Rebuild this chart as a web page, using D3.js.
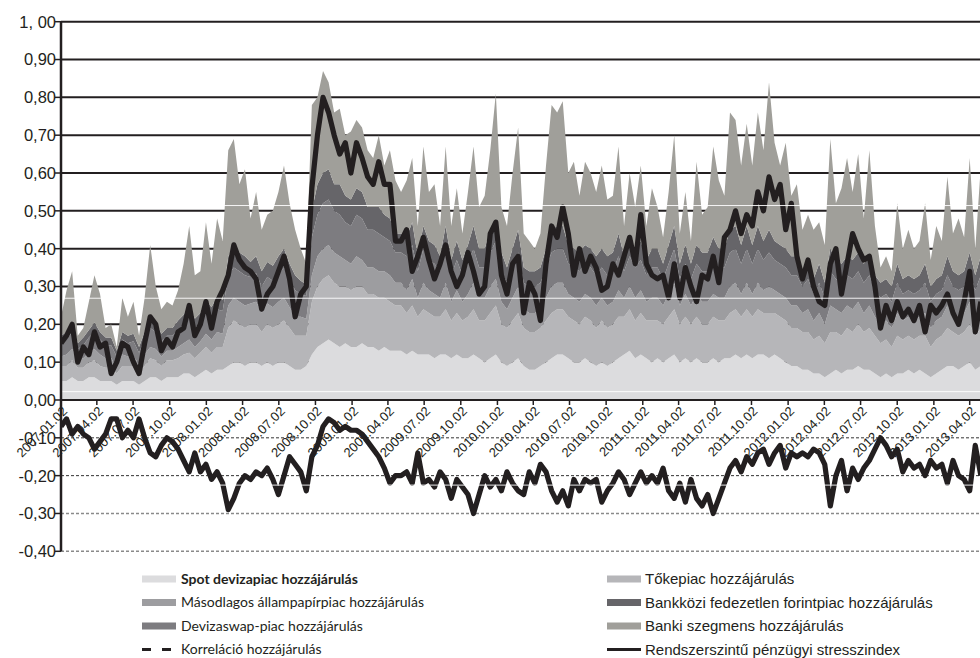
<!DOCTYPE html>
<html>
<head>
<meta charset="utf-8">
<script src="https://cdn.jsdelivr.net/npm/d3@7"></script>
<style>
  body { margin: 0; background: #fff; }
  svg { display: block; }
</style>
</head>
<body>
<svg id="chart" width="980" height="658"></svg>
<script>
// Observations: one every 14 days from 2007.01.02
const startDate = new Date(2007, 0, 2);
const stepDays = 14;

// Stacked contributions (bottom to top)
const spot = [
  0.05,0.05,0.06,0.05,0.05,0.06,0.06,0.05,0.05,0.05,
  0.04,0.05,0.05,0.05,0.04,0.05,0.06,0.06,0.05,0.06,
  0.06,0.06,0.07,0.07,0.06,0.07,0.08,0.07,0.08,0.08,
  0.09,0.10,0.10,0.09,0.10,0.10,0.09,0.10,0.09,0.10,
  0.10,0.09,0.08,0.08,0.09,0.12,0.14,0.15,0.16,0.15,
  0.14,0.15,0.14,0.14,0.15,0.14,0.14,0.13,0.14,0.13,
  0.13,0.13,0.12,0.13,0.12,0.12,0.12,0.11,0.12,0.12,
  0.11,0.12,0.11,0.11,0.12,0.11,0.10,0.11,0.12,0.10,
  0.09,0.10,0.11,0.09,0.08,0.08,0.09,0.10,0.11,0.12,
  0.12,0.11,0.10,0.10,0.11,0.10,0.09,0.10,0.09,0.10,
  0.11,0.12,0.13,0.11,0.12,0.11,0.10,0.11,0.10,0.11,
  0.12,0.10,0.11,0.10,0.11,0.10,0.10,0.11,0.10,0.11,
  0.11,0.12,0.11,0.12,0.11,0.12,0.12,0.11,0.12,0.11,
  0.10,0.09,0.09,0.08,0.08,0.07,0.07,0.06,0.07,0.08,
  0.07,0.08,0.08,0.09,0.08,0.08,0.07,0.06,0.07,0.06,
  0.07,0.07,0.08,0.07,0.08,0.07,0.06,0.07,0.08,0.09,
  0.09,0.08,0.09,0.10,0.08,0.09
];
const tokepiac = [
  0.04,0.04,0.045,0.035,0.035,0.04,0.045,0.04,0.035,0.035,
  0.03,0.04,0.04,0.04,0.035,0.04,0.05,0.045,0.04,0.045,
  0.045,0.05,0.05,0.055,0.05,0.055,0.06,0.055,0.06,0.06,
  0.10,0.11,0.10,0.10,0.10,0.10,0.09,0.10,0.10,0.10,
  0.11,0.10,0.09,0.09,0.08,0.14,0.16,0.17,0.17,0.16,
  0.16,0.15,0.15,0.16,0.15,0.14,0.14,0.14,0.13,0.13,
  0.12,0.12,0.11,0.12,0.10,0.12,0.11,0.11,0.10,0.12,
  0.10,0.11,0.10,0.11,0.12,0.10,0.11,0.12,0.13,0.10,
  0.10,0.11,0.12,0.10,0.10,0.10,0.10,0.11,0.12,0.12,
  0.12,0.11,0.11,0.10,0.11,0.11,0.10,0.11,0.10,0.10,
  0.11,0.10,0.11,0.10,0.11,0.10,0.11,0.10,0.10,0.11,
  0.12,0.10,0.11,0.10,0.11,0.10,0.10,0.11,0.11,0.10,
  0.12,0.12,0.11,0.12,0.11,0.12,0.11,0.12,0.11,0.11,
  0.11,0.10,0.10,0.10,0.10,0.09,0.10,0.09,0.11,0.10,
  0.10,0.11,0.10,0.11,0.10,0.11,0.10,0.09,0.09,0.08,
  0.10,0.09,0.09,0.09,0.09,0.10,0.08,0.09,0.09,0.10,
  0.09,0.09,0.09,0.10,0.09,0.10
];
const masodlagos = [
  0.025,0.03,0.03,0.02,0.025,0.025,0.03,0.03,0.025,0.025,
  0.02,0.03,0.025,0.025,0.02,0.03,0.03,0.03,0.025,0.025,
  0.025,0.03,0.03,0.035,0.03,0.03,0.035,0.035,0.04,0.035,
  0.06,0.06,0.06,0.06,0.055,0.06,0.05,0.055,0.055,0.06,
  0.06,0.055,0.05,0.05,0.045,0.07,0.08,0.08,0.08,0.08,
  0.08,0.07,0.07,0.08,0.07,0.07,0.07,0.07,0.07,0.07,
  0.06,0.06,0.06,0.07,0.05,0.07,0.06,0.06,0.05,0.07,
  0.05,0.06,0.05,0.06,0.07,0.06,0.06,0.07,0.07,0.06,
  0.05,0.06,0.07,0.05,0.05,0.05,0.05,0.06,0.07,0.07,
  0.07,0.06,0.06,0.06,0.06,0.06,0.06,0.06,0.06,0.06,
  0.07,0.05,0.06,0.06,0.06,0.05,0.06,0.06,0.05,0.06,
  0.07,0.05,0.06,0.05,0.06,0.06,0.06,0.06,0.06,0.06,
  0.07,0.07,0.06,0.07,0.06,0.07,0.06,0.07,0.06,0.06,
  0.06,0.06,0.06,0.05,0.06,0.05,0.06,0.05,0.07,0.06,
  0.06,0.06,0.06,0.06,0.05,0.06,0.05,0.05,0.05,0.05,
  0.06,0.05,0.05,0.05,0.05,0.06,0.05,0.05,0.05,0.06,
  0.05,0.05,0.05,0.06,0.05,0.06
];
const devizaswap = [
  0.035,0.04,0.045,0.03,0.035,0.04,0.045,0.04,0.035,0.035,
  0.025,0.04,0.035,0.04,0.03,0.04,0.05,0.045,0.04,0.04,
  0.04,0.045,0.05,0.06,0.05,0.05,0.06,0.055,0.06,0.06,
  0.08,0.08,0.08,0.08,0.07,0.075,0.07,0.07,0.07,0.075,
  0.08,0.075,0.07,0.06,0.06,0.10,0.11,0.12,0.12,0.11,
  0.11,0.10,0.10,0.11,0.11,0.10,0.10,0.10,0.09,0.09,
  0.08,0.08,0.09,0.09,0.07,0.09,0.08,0.08,0.07,0.09,
  0.07,0.08,0.07,0.08,0.09,0.08,0.08,0.09,0.10,0.08,
  0.07,0.08,0.09,0.07,0.07,0.07,0.07,0.08,0.09,0.09,
  0.09,0.08,0.08,0.08,0.08,0.08,0.08,0.08,0.08,0.08,
  0.09,0.07,0.08,0.08,0.08,0.07,0.08,0.08,0.07,0.08,
  0.09,0.07,0.08,0.07,0.08,0.08,0.08,0.09,0.08,0.08,
  0.09,0.09,0.08,0.09,0.08,0.09,0.08,0.09,0.08,0.08,
  0.08,0.08,0.08,0.07,0.08,0.07,0.08,0.07,0.09,0.08,
  0.08,0.08,0.08,0.08,0.08,0.08,0.07,0.07,0.07,0.07,
  0.08,0.07,0.07,0.07,0.07,0.08,0.07,0.07,0.07,0.08,
  0.07,0.07,0.07,0.08,0.07,0.08
];
const bankkozi = [
  0.02,0.02,0.025,0.015,0.02,0.02,0.025,0.02,0.02,0.02,
  0.015,0.02,0.02,0.02,0.015,0.02,0.03,0.025,0.02,0.02,
  0.02,0.025,0.025,0.03,0.025,0.025,0.03,0.03,0.035,0.03,
  0.05,0.05,0.05,0.05,0.04,0.045,0.04,0.04,0.04,0.045,
  0.05,0.04,0.04,0.035,0.03,0.07,0.08,0.08,0.08,0.07,
  0.08,0.07,0.07,0.07,0.07,0.06,0.06,0.07,0.06,0.06,
  0.05,0.05,0.05,0.06,0.04,0.06,0.05,0.05,0.04,0.06,
  0.04,0.05,0.04,0.05,0.06,0.05,0.05,0.06,0.06,0.05,
  0.04,0.05,0.06,0.04,0.04,0.04,0.04,0.05,0.06,0.06,
  0.06,0.05,0.05,0.05,0.05,0.05,0.05,0.05,0.05,0.05,
  0.06,0.04,0.05,0.05,0.05,0.04,0.05,0.05,0.04,0.05,
  0.06,0.04,0.05,0.04,0.05,0.05,0.05,0.06,0.05,0.05,
  0.06,0.06,0.05,0.06,0.05,0.06,0.05,0.06,0.05,0.05,
  0.05,0.05,0.05,0.04,0.05,0.04,0.05,0.04,0.06,0.05,
  0.05,0.05,0.05,0.05,0.05,0.05,0.04,0.04,0.04,0.04,
  0.05,0.04,0.04,0.04,0.04,0.05,0.04,0.04,0.04,0.05,
  0.04,0.04,0.04,0.05,0.04,0.05
];
const banki = [
  0.05,0.11,0.135,0.02,0.025,0.075,0.125,0.10,0.025,0.035,
  0.01,0.09,0.05,0.085,0.03,0.09,0.19,0.095,0.065,0.07,
  0.06,0.08,0.135,0.21,0.115,0.11,0.205,0.115,0.205,0.155,
  0.28,0.29,0.18,0.23,0.115,0.17,0.11,0.125,0.145,0.17,
  0.22,0.16,0.12,0.085,0.055,0.28,0.23,0.27,0.23,0.19,
  0.20,0.16,0.18,0.18,0.17,0.15,0.13,0.19,0.13,0.18,
  0.14,0.11,0.15,0.17,0.08,0.21,0.13,0.16,0.08,0.21,
  0.09,0.14,0.07,0.14,0.21,0.11,0.14,0.21,0.33,0.12,
  0.11,0.20,0.27,0.09,0.08,0.06,0.09,0.22,0.33,0.30,
  0.33,0.19,0.23,0.15,0.22,0.20,0.17,0.22,0.15,0.15,
  0.23,0.08,0.17,0.11,0.20,0.09,0.16,0.11,0.07,0.14,
  0.24,0.08,0.14,0.06,0.22,0.10,0.12,0.24,0.18,0.14,
  0.31,0.28,0.21,0.27,0.21,0.30,0.24,0.39,0.26,0.21,
  0.28,0.16,0.19,0.11,0.12,0.13,0.11,0.10,0.29,0.15,
  0.20,0.26,0.18,0.26,0.12,0.28,0.13,0.04,0.06,0.04,
  0.16,0.08,0.12,0.08,0.09,0.16,0.07,0.14,0.09,0.21,
  0.10,0.15,0.09,0.25,0.07,0.24
];

// Composite index and the (negative) correlation contribution
const stressIndex = [
  0.15,0.17,0.20,0.10,0.14,0.12,0.18,0.14,0.15,0.07,
  0.10,0.15,0.14,0.10,0.07,0.15,0.22,0.20,0.13,0.16,
  0.14,0.18,0.19,0.25,0.17,0.20,0.26,0.19,0.26,0.29,
  0.33,0.41,0.37,0.35,0.34,0.32,0.24,0.28,0.30,0.34,
  0.38,0.32,0.22,0.28,0.30,0.56,0.70,0.80,0.76,0.70,
  0.65,0.68,0.60,0.68,0.64,0.59,0.57,0.63,0.57,0.57,
  0.42,0.42,0.45,0.34,0.38,0.43,0.37,0.32,0.36,0.41,
  0.34,0.30,0.33,0.39,0.34,0.28,0.30,0.44,0.47,0.33,
  0.28,0.36,0.38,0.23,0.31,0.28,0.21,0.36,0.46,0.43,
  0.51,0.44,0.33,0.40,0.34,0.38,0.35,0.29,0.30,0.36,
  0.33,0.38,0.43,0.36,0.49,0.36,0.33,0.32,0.33,0.27,
  0.36,0.27,0.35,0.30,0.26,0.33,0.32,0.38,0.31,0.43,
  0.45,0.50,0.44,0.49,0.46,0.55,0.50,0.59,0.53,0.57,
  0.45,0.52,0.38,0.32,0.37,0.30,0.26,0.25,0.36,0.40,
  0.28,0.36,0.44,0.40,0.37,0.38,0.30,0.19,0.25,0.21,
  0.26,0.22,0.24,0.21,0.25,0.18,0.25,0.23,0.25,0.28,
  0.23,0.20,0.26,0.34,0.18,0.26
];
const correlation = [
  -0.07,-0.05,-0.09,-0.07,-0.09,-0.10,-0.13,-0.11,-0.09,-0.05,
  -0.05,-0.10,-0.08,-0.10,-0.05,-0.10,-0.14,-0.15,-0.12,-0.10,
  -0.11,-0.13,-0.16,-0.19,-0.14,-0.19,-0.17,-0.21,-0.19,-0.22,
  -0.29,-0.26,-0.22,-0.20,-0.21,-0.19,-0.20,-0.18,-0.21,-0.25,
  -0.20,-0.15,-0.17,-0.19,-0.24,-0.15,-0.12,-0.07,-0.05,-0.06,
  -0.08,-0.07,-0.08,-0.08,-0.09,-0.11,-0.13,-0.15,-0.18,-0.22,
  -0.20,-0.20,-0.19,-0.22,-0.14,-0.22,-0.21,-0.23,-0.19,-0.21,
  -0.26,-0.21,-0.23,-0.25,-0.30,-0.25,-0.20,-0.23,-0.21,-0.24,
  -0.19,-0.22,-0.24,-0.25,-0.19,-0.22,-0.17,-0.19,-0.24,-0.27,
  -0.24,-0.28,-0.21,-0.24,-0.21,-0.22,-0.21,-0.27,-0.24,-0.22,
  -0.19,-0.21,-0.25,-0.22,-0.19,-0.22,-0.20,-0.22,-0.18,-0.24,
  -0.26,-0.22,-0.27,-0.21,-0.26,-0.28,-0.25,-0.30,-0.26,-0.22,
  -0.18,-0.16,-0.19,-0.15,-0.17,-0.14,-0.13,-0.17,-0.14,-0.12,
  -0.18,-0.14,-0.15,-0.14,-0.15,-0.13,-0.14,-0.17,-0.28,-0.20,
  -0.16,-0.24,-0.18,-0.21,-0.18,-0.16,-0.13,-0.10,-0.12,-0.15,
  -0.13,-0.19,-0.16,-0.18,-0.17,-0.20,-0.16,-0.18,-0.17,-0.22,
  -0.16,-0.20,-0.21,-0.24,-0.12,-0.20
];

// Axis ticks and labels
const xTickLabels = [
  "2007.01.02","2007.04.02","2007.07.02","2007.10.02",
  "2008.01.02","2008.04.02","2008.07.02","2008.10.02",
  "2009.01.02","2009.04.02","2009.07.02","2009.10.02",
  "2010.01.02","2010.04.02","2010.07.02","2010.10.02",
  "2011.01.02","2011.04.02","2011.07.02","2011.10.02",
  "2012.01.02","2012.04.02","2012.07.02","2012.10.02",
  "2013.01.02","2013.04.02"
];
const yTickValues = [1.0,0.9,0.8,0.7,0.6,0.5,0.4,0.3,0.2,0.1,0.0,-0.1,-0.2,-0.3,-0.4];
const yTickLabels = ["1, 00","0,90","0,80","0,70","0,60","0,50","0,40","0,30","0,20","0,10","0,00","-0,10","-0,20","-0,30","-0,40"];
// Light reference lines of the secondary scale
const secondaryGrid = [0.514, 0.269, 0.022, -0.225];

const seriesKeys = ["spot","tokepiac","masodlagos","devizaswap","bankkozi","banki"];
const seriesColors = {
  spot: "#dcdcde", tokepiac: "#b6b6b9", masodlagos: "#9d9da0",
  devizaswap: "#7d7c80", bankkozi: "#666569", banki: "#a09f9a"
};

const parseLabel = d3.timeParse("%Y.%m.%d");
const dates = spot.map((_, i) => d3.timeDay.offset(startDate, i * stepDays));
const rows = dates.map((d, i) => ({
  date: d, spot: spot[i], tokepiac: tokepiac[i], masodlagos: masodlagos[i],
  devizaswap: devizaswap[i], bankkozi: bankkozi[i], banki: banki[i],
  stress: stressIndex[i], corr: correlation[i]
}));

const svg = d3.select("#chart");
const plotLeft = 61, plotRight = 980;

const x = d3.scaleTime()
  .domain([parseLabel("2007.01.02"), parseLabel("2013.04.02")])
  .range([61, 969.7]);
const y = d3.scaleLinear().domain([-0.4, 1.0]).range([551.3, 21.7]);

svg.append("defs").append("clipPath").attr("id", "plotClip")
  .append("rect").attr("x", plotLeft).attr("y", 0)
  .attr("width", plotRight - plotLeft).attr("height", 658);

// Horizontal gridlines
const grid = svg.append("g");
yTickValues.filter(v => v !== 0).forEach(v => {
  const neg = v < 0;
  grid.append("line")
    .attr("x1", plotLeft).attr("x2", plotRight)
    .attr("y1", y(v)).attr("y2", y(v))
    .attr("stroke", neg ? (v <= -0.3 ? "#8a8a8a" : "#333") : "#231f20")
    .attr("stroke-width", neg ? (v <= -0.3 ? 1.4 : 1) : 2)
    .attr("stroke-dasharray", neg ? "3,2" : null);
});

// Stacked areas
const stack = d3.stack().keys(seriesKeys);
const layers = stack(rows);
const area = d3.area()
  .x(d => x(d.data.date))
  .y0(d => y(d[0]))
  .y1(d => y(d[1]));
const plot = svg.append("g").attr("clip-path", "url(#plotClip)");
plot.selectAll("path.layer").data(layers).join("path")
  .attr("class", "layer")
  .attr("fill", d => seriesColors[d.key])
  .attr("d", area);

// x axis line with quarterly ticks
svg.append("line")
  .attr("x1", plotLeft).attr("x2", plotRight)
  .attr("y1", y(0)).attr("y2", y(0))
  .attr("stroke", "#231f20").attr("stroke-width", 2);
const tickDates = xTickLabels.map(parseLabel);
svg.append("g").selectAll("line").data(tickDates.slice(1)).join("line")
  .attr("x1", d => x(d)).attr("x2", d => x(d))
  .attr("y1", y(0)).attr("y2", y(0) + 5)
  .attr("stroke", "#231f20").attr("stroke-width", 1.5);

// Rotated date labels
svg.append("g").selectAll("text").data(xTickLabels).join("text")
  .attr("transform", d => `translate(${x(parseLabel(d)) + 7},${y(0) + 12}) rotate(-45)`)
  .attr("text-anchor", "end")
  .attr("font-family", "'Liberation Sans', Arial, sans-serif")
  .attr("font-size", 13)
  .attr("fill", "#231f20")
  .text(d => d);

// Index lines
const lineStress = d3.line().x(d => x(d.date)).y(d => y(d.stress));
const lineCorr = d3.line().x(d => x(d.date)).y(d => y(d.corr));
plot.append("path").datum(rows)
  .attr("fill", "none").attr("stroke", "#231f20").attr("stroke-width", 5.2)
  .attr("stroke-linejoin", "round").attr("d", lineStress);
plot.append("path").datum(rows)
  .attr("fill", "none").attr("stroke", "#231f20").attr("stroke-width", 5.2)
  .attr("stroke-linejoin", "round").attr("d", lineCorr);

// Secondary reference lines
plot.selectAll("line.sec").data(secondaryGrid).join("line")
  .attr("class", "sec")
  .attr("x1", plotLeft).attr("x2", plotRight)
  .attr("y1", d => y(d)).attr("y2", d => y(d))
  .attr("stroke", "#ffffff").attr("stroke-width", 1).attr("opacity", 0.9);

// y axis
svg.append("line")
  .attr("x1", plotLeft).attr("x2", plotLeft)
  .attr("y1", y(1)).attr("y2", y(-0.4))
  .attr("stroke", "#231f20").attr("stroke-width", 2.5);
const yAxis = svg.append("g");
yAxis.selectAll("line").data(yTickValues).join("line")
  .attr("x1", plotLeft - 6).attr("x2", plotLeft)
  .attr("y1", d => y(d)).attr("y2", d => y(d))
  .attr("stroke", "#231f20").attr("stroke-width", 1.5);
yAxis.selectAll("text").data(yTickValues).join("text")
  .attr("x", 56).attr("y", d => y(d))
  .attr("dy", "0.36em")
  .attr("text-anchor", "end")
  .attr("font-family", "'Liberation Sans', Arial, sans-serif")
  .attr("font-size", 16.5)
  .attr("fill", "#231f20")
  .text((d, i) => yTickLabels[i]);

// Legend
const legendLeft = [
  { label: "Spot devizapiac hozzájárulás", key: "spot", bold: true },
  { label: "Másodlagos állampapírpiac hozzájárulás", key: "masodlagos" },
  { label: "Devizaswap-piac hozzájárulás", key: "devizaswap" },
  { label: "Korreláció hozzájárulás", line: "dash" }
];
const legendRight = [
  { label: "Tőkepiac hozzájárulás", key: "tokepiac" },
  { label: "Bankközi fedezetlen forintpiac hozzájárulás", key: "bankkozi" },
  { label: "Banki szegmens hozzájárulás", key: "banki" },
  { label: "Rendszerszintű pénzügyi stresszindex", line: "solid" }
];
const legendRowsY = [579, 602.5, 626, 649.5];
function drawLegend(items, sx, tx, font, size) {
  const g = svg.append("g");
  items.forEach((it, i) => {
    const yy = legendRowsY[i];
    if (it.line === "dash") {
      g.append("line").attr("x1", sx).attr("x2", sx + 34).attr("y1", yy).attr("y2", yy)
        .attr("stroke", "#231f20").attr("stroke-width", 3).attr("stroke-dasharray", "9,11");
    } else if (it.line === "solid") {
      g.append("line").attr("x1", sx).attr("x2", sx + 34).attr("y1", yy).attr("y2", yy)
        .attr("stroke", "#231f20").attr("stroke-width", 3);
    } else {
      g.append("rect").attr("x", sx).attr("y", yy - 3.5).attr("width", 34).attr("height", 7)
        .attr("fill", seriesColors[it.key]);
    }
    g.append("text").attr("x", tx).attr("y", yy).attr("dy", "0.35em")
      .attr("font-family", font).attr("font-size", size)
      .attr("font-weight", it.bold ? 700 : 400)
      .attr("fill", "#231f20").text(it.label);
  });
}
drawLegend(legendLeft, 142, 181, "Lato, 'Open Sans', sans-serif", 14);
drawLegend(legendRight, 607, 645, "'Liberation Sans', Arial, sans-serif", 15);
</script>
</body>
</html>
